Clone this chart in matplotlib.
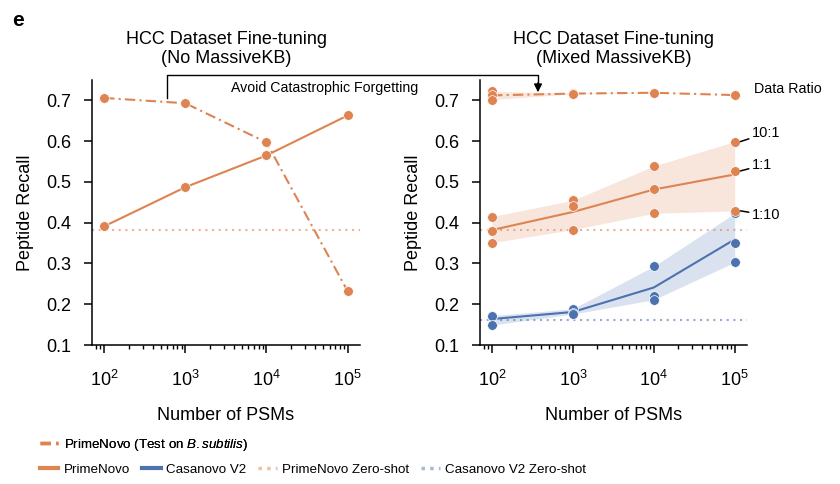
import matplotlib
matplotlib.use("Agg")
import matplotlib.pyplot as plt
import numpy as np
from matplotlib.lines import Line2D

plt.rcParams['font.family'] = ['Liberation Sans', 'DejaVu Sans']
plt.rcParams['mathtext.fontset'] = 'custom'
plt.rcParams['mathtext.rm'] = 'Liberation Sans'
plt.rcParams['mathtext.it'] = 'Liberation Sans:italic'
plt.rcParams['font.size'] = 11

ORANGE = '#DD8452'
BLUE = '#4C72B0'

psms = [1e2, 1e3, 1e4, 1e5]

# left panel (No MassiveKB)
left_bsub = [0.706, 0.693, 0.597, 0.232]
left_hcc = [0.391, 0.487, 0.565, 0.663]
prime_zero = 0.381
casa_zero = 0.161

# right panel (Mixed MassiveKB), three data ratios per PSM count: 10:1, 1:1, 1:10
right_bsub = [[0.722, 0.713, 0.702],
              [0.718, 0.716, 0.716],
              [0.719, 0.719, 0.718],
              [0.713, 0.713, 0.713]]
right_prime = [[0.415, 0.380, 0.351],
               [0.455, 0.441, 0.383],
               [0.539, 0.482, 0.423],
               [0.599, 0.527, 0.429]]
right_casa = [[0.170, 0.172, 0.149],
              [0.189, 0.178, 0.176],
              [0.293, 0.219, 0.211],
              [0.423, 0.351, 0.303]]
ratio_labels = ['10:1', '1:1', '1:10']

dashdot = (0, (5, 2, 1, 2))
dotted = (0, (1, 2.2))

fig = plt.figure(figsize=(8.4, 4.84), dpi=100)
axL = fig.add_axes([92 / 840, 139 / 484, 268 / 840, 265 / 484])
axR = fig.add_axes([480 / 840, 139 / 484, 267 / 840, 265 / 484])

for ax in (axL, axR):
    ax.set_xscale('log')
    ax.set_xlim(71, 1.42e5)
    ax.set_ylim(0.1, 0.75)
    ax.set_yticks([0.1, 0.2, 0.3, 0.4, 0.5, 0.6, 0.7])
    ax.set_xticks(psms)
    ax.set_xticklabels([r'$10^{2}$', r'$10^{3}$', r'$10^{4}$', r'$10^{5}$'])
    ax.spines['top'].set_visible(False)
    ax.spines['right'].set_visible(False)
    for s in ('left', 'bottom'):
        ax.spines[s].set_linewidth(1.1)
    ax.tick_params(axis='both', which='major', length=6, width=1.1, labelsize=13)
    ax.tick_params(axis='y', which='major', pad=9)
    ax.tick_params(axis='x', which='major', pad=12)
    ax.tick_params(axis='x', which='minor', length=3, width=1.0)
    ax.set_xlabel('Number of PSMs', fontsize=13, labelpad=12)
    ax.set_ylabel('Peptide Recall', fontsize=13, labelpad=9)

mk = dict(marker='o', markersize=7, markeredgecolor='white', markeredgewidth=0.5)

# left panel
axL.axhline(prime_zero, color=ORANGE, alpha=0.6, lw=1.5, ls=dotted)
axL.plot(psms, left_bsub, color=ORANGE, lw=1.5, ls=dashdot, **mk)
axL.plot(psms, left_hcc, color=ORANGE, lw=1.5, **mk)
axL.set_title('HCC Dataset Fine-tuning\n(No MassiveKB)', fontsize=13, pad=12)

# right panel
axR.axhline(prime_zero, color=ORANGE, alpha=0.6, lw=1.5, ls=dotted)
axR.axhline(casa_zero, color=BLUE, alpha=0.6, lw=1.5, ls=dotted)
for data, color, ls in ((right_bsub, ORANGE, dashdot),
                        (right_casa, BLUE, '-'),
                        (right_prime, ORANGE, '-')):
    arr = np.array(data)
    axR.fill_between(psms, arr.min(axis=1), arr.max(axis=1), color=color, alpha=0.2, lw=0)
    axR.plot(psms, arr.mean(axis=1), color=color, lw=1.5, ls=ls)
    for i, x in enumerate(psms):
        axR.plot([x] * 3, arr[i], ls='none', color=color, **mk)
axR.set_title('HCC Dataset Fine-tuning\n(Mixed MassiveKB)', fontsize=13, pad=12)

# data ratio labels
offsets = [(8, 6), (8, 4), (8, -3)]
for lab, val, off in zip(ratio_labels, right_prime[-1], offsets):
    axR.annotate(lab, xy=(1.18e5, val), xytext=off, textcoords='offset points',
                 fontsize=10.5, va='center', ha='left', annotation_clip=False,
                 arrowprops=dict(arrowstyle='-', lw=1.1, color='black', shrinkA=0, shrinkB=0))
axR.text(1.75e5, 0.729, 'Data Ratio', fontsize=10.3, va='center', ha='left')

# bracket arrow between panels
def fx(px):
    return px / 840

def fy(py):
    return 1 - py / 484

fig.add_artist(Line2D([fx(167), fx(167), fx(538), fx(538)], [fy(98), fy(75), fy(75), fy(86)],
                      transform=fig.transFigure, color='black', lw=1))
fig.patches.append(matplotlib.patches.FancyArrowPatch(
    (fx(538), fy(80)), (fx(538), fy(95)), transform=fig.transFigure,
    arrowstyle='-|>', mutation_scale=12, color='black', lw=1))
fig.text(fx(325), fy(88), 'Avoid Catastrophic Forgetting', fontsize=10.2, ha='center', va='center')

fig.text(12 / 840, fy(21), 'e', fontsize=15, fontweight='bold', ha='left', va='center')

# legends
lprop = {'size': 9.6}
h_bsub = Line2D([], [], color=ORANGE, lw=2.5, ls=(0, (3, 1.5, 1, 1.5)))
leg1 = fig.legend([h_bsub], [r'PrimeNovo (Test on $\it{B.subtilis}$)'],
                  loc='center left', bbox_to_anchor=(0.033, fy(445)), frameon=False,
                  prop=lprop, handlelength=1.4, handletextpad=0.4)
h_list = [Line2D([], [], color=ORANGE, lw=3),
          Line2D([], [], color=BLUE, lw=3),
          Line2D([], [], color=ORANGE, alpha=0.5, lw=2.5, ls=(0, (1, 1.5))),
          Line2D([], [], color=BLUE, alpha=0.5, lw=2.5, ls=(0, (1, 1.5)))]
fig.legend(h_list, ['PrimeNovo', 'Casanovo V2', 'PrimeNovo Zero-shot', 'Casanovo V2 Zero-shot'],
           loc='center left', bbox_to_anchor=(0.033, fy(470)), frameon=False, ncol=4,
           prop=lprop, handlelength=1.4, handletextpad=0.4, columnspacing=0.9)
fig.add_artist(leg1)

fig.savefig('out.png', dpi=100)
